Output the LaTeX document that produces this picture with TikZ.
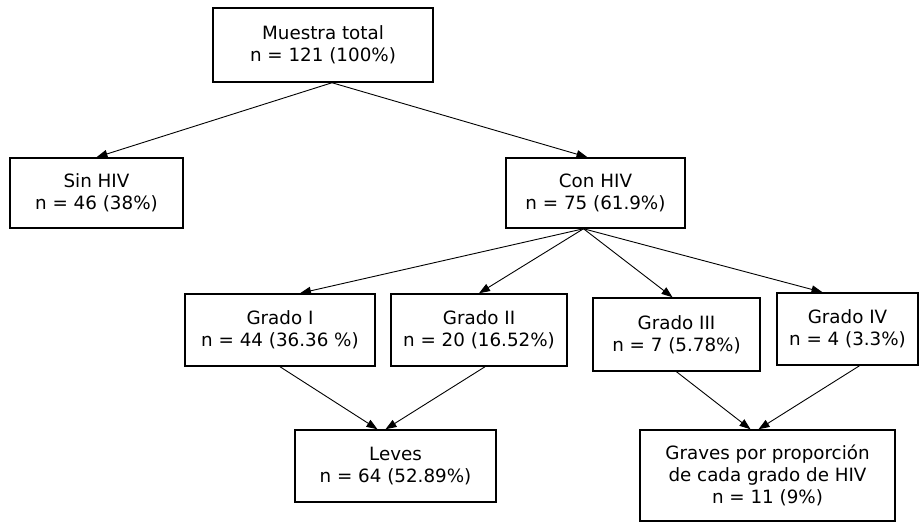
\documentclass[tikz,border=0pt]{standalone}
\usepackage{fontspec}
\setmainfont{DejaVu Sans}
\usetikzlibrary{arrows.meta,positioning}

\begin{document}
\begin{tikzpicture}[x=1pt,y=-1pt,font=\fontsize{18.3}{21.8}\selectfont,
  box/.style={draw,line width=1.5pt,align=center,inner sep=2pt},
  arr/.style={-{Triangle[length=11pt,width=8pt]},line width=0.9pt}]
\useasboundingbox (0,0) rectangle (922,527);
% nivel 1
\node[box,minimum width=220,minimum height=74] (total) at (323,45)
 {Muestra total\\n = 121 (100\%)};
% nivel 2
\node[box,minimum width=173,minimum height=70] (sin) at (96.5,193)
 {Sin HIV\\n = 46 (38\%)};
\node[box,minimum width=179,minimum height=70] (con) at (595.5,193)
 {Con HIV\\n = 75 (61.9\%)};
% grados
\node[box,minimum width=190,minimum height=72] (g1) at (280,330)
 {Grado I\\n = 44 (36.36 \%)};
\node[box,minimum width=176,minimum height=72] (g2) at (479,330)
 {Grado II\\n = 20 (16.52\%)};
\node[box,minimum width=167,minimum height=73] (g3) at (676.5,334.5)
 {Grado III\\n = 7 (5.78\%)};
\node[box,minimum width=141,minimum height=72] (g4) at (847.5,329)
 {Grado IV\\n = 4 (3.3\%)};
% resultado
\node[box,minimum width=201,minimum height=72] (leves) at (395.5,466)
 {Leves\\n = 64 (52.89\%)};
\node[box,minimum width=255,minimum height=91] (graves) at (767.5,475.5)
 {Graves por proporción\\de cada grado de HIV\\n = 11 (9\%)};
\draw[arr] ([xshift=9pt]total.south) -- (sin.north);
\draw[arr] ([xshift=9pt]total.south) -- ([xshift=-8pt]con.north);
\draw[arr] ([xshift=-12pt]con.south) -- ([xshift=20pt]g1.north);
\draw[arr] ([xshift=-12pt]con.south) -- (g2.north);
\draw[arr] ([xshift=-12pt]con.south) -- ([xshift=-4pt]g3.north);
\draw[arr] ([xshift=-12pt]con.south) -- ([xshift=-25pt]g4.north);
\draw[arr] (g1.south) -- ([xshift=-18pt]leves.north);
\draw[arr] ([xshift=6pt]g2.south) -- ([xshift=-10pt]leves.north);
\draw[arr] (g3.south) -- ([xshift=-17pt]graves.north);
\draw[arr] ([xshift=12pt]g4.south) -- ([xshift=-9pt]graves.north);
\end{tikzpicture}
\end{document}
